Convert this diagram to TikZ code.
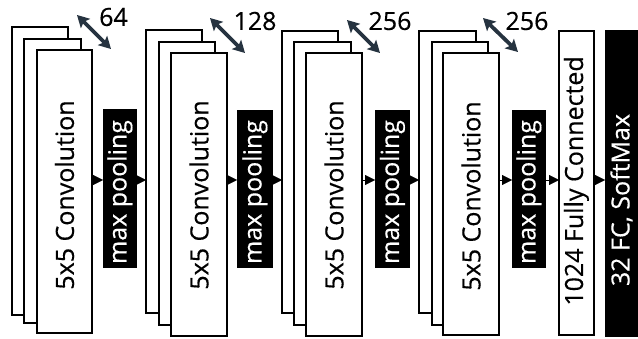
\documentclass[tikz,border=0pt]{standalone}
\usepackage{fontspec}
\setmainfont{Open Sans}[FakeBold=0.4]
\usetikzlibrary{arrows.meta}
\definecolor{dimc}{HTML}{263340}
\begin{document}
\begin{tikzpicture}[x=1pt,y=-1pt,
  box/.style={draw=black, line width=2pt, fill=white, inner sep=0pt, outer sep=0pt, anchor=north west},
  bbox/.style={fill=black, inner sep=0pt, outer sep=0pt, anchor=north west},
  lbl/.style={rotate=90, font=\fontsize{25}{30}\selectfont, inner sep=0pt},
  wlbl/.style={lbl, text=white},
  num/.style={font=\fontsize{25}{30}\selectfont, inner sep=0pt},
  tri/.style={-{Triangle[length=10pt,width=10pt]}, line width=0.4pt, shorten <=-1pt},
  dim/.style={{Stealth[length=12pt,width=13pt,inset=2.5pt]}-{Stealth[length=12pt,width=13pt,inset=2.5pt]}, line width=3.8pt, draw=dimc}
]
\useasboundingbox (0,0) rectangle (638,339);
\coordinate (ay) at (0,180);

% block 1
\node[box, minimum width=56pt, minimum height=288pt] (b1a) at (12,27) {};
\node[box, minimum width=57pt, minimum height=284pt] (b1b) at (24,39) {};
\node[box, minimum width=55pt, minimum height=283pt] (b1c) at (37,50) {};
\node[lbl] (t1) at (64.5,195) {5x5 Convolution};
\node[bbox, minimum width=34pt, minimum height=159pt] (m1) at (103,109) {};
\node[wlbl] (p1) at (120,192) {max pooling};

% block 2
\node[box, minimum width=56pt, minimum height=283pt] (b2a) at (146,30) {};
\node[box, minimum width=56pt, minimum height=283pt] (b2b) at (159,42) {};
\node[box, minimum width=56pt, minimum height=283pt] (b2c) at (171,53) {};
\node[lbl] (t2) at (199,195) {5x5 Convolution};
\node[bbox, minimum width=36pt, minimum height=158pt] (m2) at (237,110) {};
\node[wlbl] (p2) at (255,192) {max pooling};

% block 3
\node[box, minimum width=56pt, minimum height=282pt] (b3a) at (282,31) {};
\node[box, minimum width=57pt, minimum height=283pt] (b3b) at (294,42) {};
\node[box, minimum width=56pt, minimum height=283pt] (b3c) at (306,53) {};
\node[lbl] (t3) at (334,195) {5x5 Convolution};
\node[bbox, minimum width=35pt, minimum height=158pt] (m3) at (375,110) {};
\node[wlbl] (p3) at (392.5,192) {max pooling};

% block 4
\node[box, minimum width=57pt, minimum height=282pt] (b4a) at (419,31) {};
\node[box, minimum width=56pt, minimum height=283pt] (b4b) at (432,42) {};
\node[box, minimum width=56pt, minimum height=282pt] (b4c) at (443,53) {};
\node[lbl] (t4) at (471,196) {5x5 Convolution};
\node[bbox, minimum width=34pt, minimum height=158pt] (m4) at (512,110) {};
\node[wlbl] (p4) at (529,192) {max pooling};

% fully connected and softmax
\node[box, minimum width=35pt, minimum height=304pt] (fc) at (559,31) {};
\node[lbl] (tfc) at (576.5,181) {1024 Fully Connected};
\node[bbox, minimum width=33pt, minimum height=307pt] (sm) at (605,30) {};
\node[wlbl] (tsm) at (621.5,200) {32 FC, SoftMax};

% small arrows
\draw[tri] (b1c.east |- ay) -- (m1.west |- ay);
\draw[tri] (m1.east |- ay) -- (b2a.west |- ay);
\draw[tri] (b2c.east |- ay) -- (m2.west |- ay);
\draw[tri] (m2.east |- ay) -- (b3a.west |- ay);
\draw[tri] (b3c.east |- ay) -- (m3.west |- ay);
\draw[tri] (m3.east |- ay) -- (b4a.west |- ay);
\draw[tri] (b4c.east |- ay) -- (m4.west |- ay);
\draw[tri] (m4.east |- ay) -- (fc.west |- ay);
\draw[tri] (fc.east |- ay) -- (sm.west |- ay);

% depth arrows
\coordinate (d1s) at (77,15);  \coordinate (d1e) at (111,49);
\coordinate (d2s) at (210,18); \coordinate (d2e) at (245,53);
\coordinate (d3s) at (347,20); \coordinate (d3e) at (380,53);
\coordinate (d4s) at (483,18); \coordinate (d4e) at (518,52);
\draw[dim] (d1s) -- (d1e);
\draw[dim] (d2s) -- (d2e);
\draw[dim] (d3s) -- (d3e);
\draw[dim] (d4s) -- (d4e);
\node[num] (n1) at (113.5,17) {64};
\node[num] (n2) at (255,21) {128};
\node[num] (n3) at (390,21) {256};
\node[num] (n4) at (527,21) {256};
\end{tikzpicture}
\end{document}
